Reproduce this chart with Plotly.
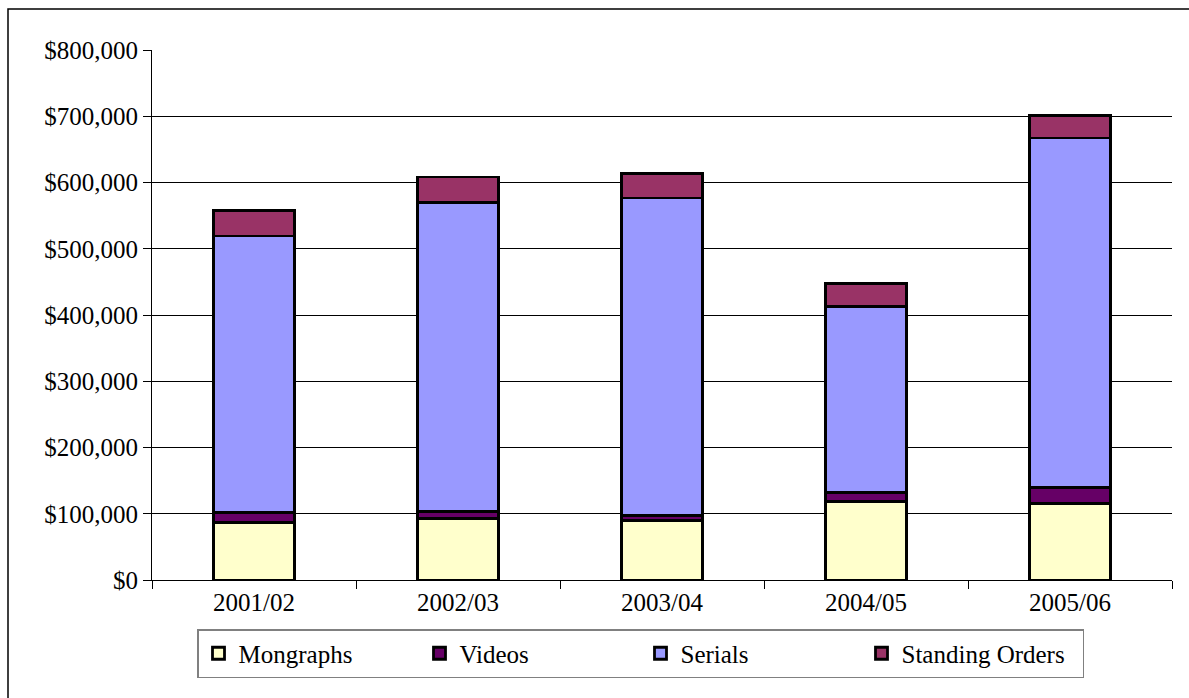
import plotly.graph_objects as go

# Library acquisitions spending by fiscal year
years = ["2001/02", "2002/03", "2003/04", "2004/05", "2005/06"]
monographs = [87100, 93100, 89500, 118200, 115800]
videos = [14500, 10000, 8100, 14200, 24100]
serials = [417600, 467000, 479000, 280100, 527300]
standing_orders = [38200, 38200, 37300, 34500, 33600]

series = [
    ("Mongraphs", monographs, "#FFFFCC"),
    ("Videos", videos, "#660066"),
    ("Serials", serials, "#9999FF"),
    ("Standing Orders", standing_orders, "#993366"),
]

FONT = "Liberation Serif"

fig = go.Figure()
for name, vals, color in series:
    fig.add_trace(go.Bar(
        x=years, y=vals, name=name,
        marker=dict(color=color, line=dict(color="#000000", width=2.8)),
    ))

W, H = 1189, 698
L, R, T, B = 152, 17, 50, 118
pw, ph = W - L - R, H - T - B

def px_x(v):
    return (v - L) / pw

def px_y(v):
    return (H - B - v) / ph

fig.update_layout(
    width=W, height=H,
    margin=dict(l=L, r=R, t=T, b=B),
    barmode="stack",
    bargap=0.6,
    plot_bgcolor="#FFFFFF",
    paper_bgcolor="#FFFFFF",
    font=dict(family=FONT, size=25, color="#000000"),
    showlegend=True,
    legend=dict(
        orientation="h",
        x=px_x(197), xanchor="left",
        y=px_y(629), yanchor="top",
        bordercolor="#808080", borderwidth=1.5,
        bgcolor="#FFFFFF",
        font=dict(family=FONT, size=25, color="#000000"),
        entrywidth=176,
        traceorder="normal",
    ),
    xaxis=dict(
        showline=True, linecolor="#000000", linewidth=1,
        ticks="outside", tickson="boundaries", ticklen=8,
        tickcolor="#000000", showgrid=False,
    ),
    yaxis=dict(
        range=[0, 800000], dtick=100000,
        tickprefix="$", tickformat=",d",
        showline=True, linecolor="#000000", linewidth=1,
        ticks="outside", ticklen=8, tickcolor="#000000",
        showgrid=True, gridcolor="#000000", gridwidth=1,
        zeroline=False,
    ),
    shapes=[dict(
        type="rect", xref="paper", yref="paper",
        x0=px_x(8), x1=px_x(1200), y0=px_y(710), y1=px_y(9),
        line=dict(color="#000000", width=1.5), fillcolor="rgba(0,0,0,0)",
        layer="below",
    )],
)

fig.write_html("out.html")
